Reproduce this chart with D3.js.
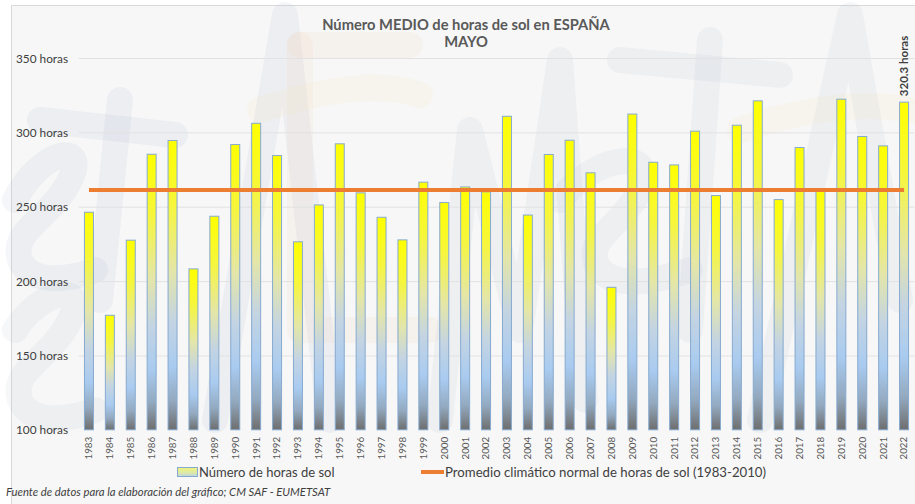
<!DOCTYPE html>
<html>
<head>
<meta charset="utf-8">
<script src="https://cdn.jsdelivr.net/npm/d3@7/dist/d3.min.js"></script>
<style>
  html, body { margin: 0; padding: 0; background: #ffffff; }
  svg { display: block; font-family: Lato, "Open Sans", "DejaVu Sans", sans-serif; }
</style>
</head>
<body>
<script>
// ---- data ----
const years = [1983,1984,1985,1986,1987,1988,1989,1990,1991,1992,1993,1994,1995,1996,1997,1998,1999,2000,2001,2002,
               2003,2004,2005,2006,2007,2008,2009,2010,2011,2012,2013,2014,2015,2016,2017,2018,2019,2020,2021,2022];
const sunHours = [246.3,177.0,227.5,285.3,294.5,208.2,243.6,291.8,306.1,284.4,226.4,251.2,292.3,259.3,242.9,227.7,
                  266.5,252.8,263.3,260.0,310.8,244.4,285.1,294.7,272.8,195.8,312.3,279.9,278.1,300.8,257.5,304.8,
                  321.2,254.8,289.8,262.0,322.3,297.2,290.9,320.3];
const normalHours = 261.2;
const yTicks = [100,150,200,250,300,350];
const titleLines = ["Número MEDIO de horas de sol en ESPAÑA", "MAYO"];
const legendLabels = ["Número de horas de sol", "Promedio climático normal de horas de sol (1983-2010)"];
const sourceText = "Fuente de datos para la elaboración del gráfico; CM SAF - EUMETSAT";
const lastLabel = "320.3 horas";

// ---- layout ----
const W = 915, H = 504;
const plot = { left: 78.5, right: 914.5, top: 58, bottom: 429.8 };

const svg = d3.select("body").append("svg").attr("width", W).attr("height", H);
const defs = svg.append("defs");

const grad = defs.append("linearGradient").attr("id", "barGrad")
  .attr("x1", 0).attr("y1", 0).attr("x2", 0).attr("y2", 1);
[[0, "#FFFF00"], [0.22, "#F6F63C"], [0.45, "#E4E6A8"], [0.62, "#C4D4E2"], [0.78, "#A9CBF0"],
 [0.9, "#93A9BF"], [1, "#6E6E6E"]].forEach(([o, c]) => grad.append("stop").attr("offset", o).attr("stop-color", c));

const lgGrad = defs.append("linearGradient").attr("id", "legGrad")
  .attr("x1", 0).attr("y1", 0).attr("x2", 0).attr("y2", 1);
[[0, "#EEF27A"], [0.6, "#DCE9A8"], [1, "#B9D3E6"]].forEach(([o, c]) => lgGrad.append("stop").attr("offset", o).attr("stop-color", c));

// chart area background and border
svg.append("rect").attr("x", 11.5).attr("y", 5.5).attr("width", W).attr("height", H)
  .attr("fill", "#F7F7F7").attr("stroke", "#D9D9D9");

// faint watermark strokes (AEMET logo impression)
const wm = svg.append("g").attr("fill", "none").attr("stroke-linecap", "round").attr("stroke-linejoin", "round");
const wmPaths = [
  ["M15,200 C40,150 90,140 70,180 C50,220 10,230 20,260 C30,285 70,280 95,270", "#9FB0C8"],
  ["M40,120 L175,135", "#9FB0C8"], ["M120,100 L100,300", "#9FB0C8"],
  ["M215,420 L285,15 L330,420", "#9FB0C8"],
  ["M300,45 L300,330 L430,330", "#F0C9A8"], ["M300,45 L410,45", "#F0C9A8"],
  ["M260,110 C320,90 380,80 420,95", "#F6E7A8"],
  ["M440,420 L470,130 L520,330 L560,60 L585,400", "#A8B6CC"],
  ["M560,200 C600,150 660,150 640,190 C620,230 580,240 600,270 C620,290 660,280 690,270", "#A8B6CC"],
  ["M620,60 L780,75", "#A8B6CC"], ["M710,40 L690,330", "#A8B6CC"],
  ["M760,420 L850,15 L900,300", "#A8B6CC"],
  ["M740,130 C800,110 860,100 910,110", "#F6E7A8"],
  ["M15,330 C40,290 90,280 70,320 C50,360 10,370 20,400 C30,425 70,420 95,410", "#A8B6CC"]
];
wmPaths.forEach(([d, c]) => wm.append("path").attr("d", d).attr("stroke", c).attr("stroke-width", 26).attr("opacity", 0.11));

// ---- scales ----
const x = d3.scaleBand().domain(years).range([plot.left, plot.right]).paddingInner(0.57).paddingOuter(0.285);
const y = d3.scaleLinear().domain([100, 350]).range([plot.bottom, plot.top]);

// gridlines
svg.append("g").selectAll("line").data(yTicks.filter(t => t > 100)).join("line")
  .attr("x1", plot.left).attr("x2", plot.right)
  .attr("y1", d => y(d) + 0.5).attr("y2", d => y(d) + 0.5)
  .attr("stroke", "#E2E2E2").attr("stroke-width", 1);

// y axis labels
const yAxis = d3.axisLeft(y).tickValues(yTicks).tickSize(0).tickPadding(0).tickFormat(d => d + " horas");
const gy = svg.append("g").attr("transform", "translate(68,0)").call(yAxis);
gy.select(".domain").remove();
gy.selectAll("text").attr("font-size", 11.8).attr("fill", "#404040")
  .attr("font-family", "Lato, 'Open Sans', sans-serif").attr("dy", "0.34em");

// bars
svg.append("g").selectAll("rect").data(years).join("rect")
  .attr("x", d => x(d))
  .attr("y", (d, i) => y(sunHours[i]))
  .attr("width", x.bandwidth())
  .attr("height", (d, i) => y(100) - y(sunHours[i]))
  .attr("fill", "url(#barGrad)")
  .attr("stroke", "#86AACF").attr("stroke-width", 1);

// x axis labels (rotated years)
const xAxis = d3.axisBottom(x).tickSize(0).tickPadding(0);
const gx = svg.append("g").attr("transform", `translate(0,${plot.bottom})`).call(xAxis);
gx.select(".domain").remove();
gx.selectAll("text")
  .attr("font-size", 9.8).attr("fill", "#595959").attr("font-family", "Lato, 'Open Sans', sans-serif")
  .attr("transform", "rotate(-90)")
  .attr("text-anchor", "end").attr("x", -7).attr("y", 0).attr("dy", "0.35em");

// normal line
const lineGen = d3.line().x(d => x(d) + x.bandwidth() / 2).y(() => y(normalHours));
svg.append("path").datum([years[0], years[years.length - 1]])
  .attr("d", lineGen).attr("fill", "none").attr("stroke", "#ED7D31").attr("stroke-width", 4);

// label on last bar
const lastYear = years[years.length - 1];
svg.append("text")
  .attr("transform", `translate(${x(lastYear) + x.bandwidth() / 2 + 4},${y(sunHours[sunHours.length - 1]) - 6}) rotate(-90)`)
  .attr("text-anchor", "start").attr("font-size", 11.5).attr("font-weight", "bold").attr("fill", "#404040")
  .text(lastLabel);

// title
svg.append("g").selectAll("text").data(titleLines).join("text")
  .attr("x", 466).attr("y", (d, i) => 30 + i * 17)
  .attr("text-anchor", "middle").attr("font-size", 14.7).attr("font-weight", "bold").attr("fill", "#595959")
  .text(d => d);

// legend
const lg = svg.append("g");
lg.append("rect").attr("x", 177.5).attr("y", 467.5).attr("width", 20).attr("height", 9)
  .attr("fill", "url(#legGrad)").attr("stroke", "#86AACF");
lg.append("text").attr("x", 199).attr("y", 476.5).attr("font-size", 13).attr("fill", "#404040").text(legendLabels[0]);
lg.append("line").attr("x1", 421).attr("x2", 444).attr("y1", 472).attr("y2", 472)
  .attr("stroke", "#ED7D31").attr("stroke-width", 4);
lg.append("text").attr("x", 445).attr("y", 476.5).attr("font-size", 13.2).attr("fill", "#404040").text(legendLabels[1]);

// source
svg.append("text").attr("x", 6).attr("y", 495.5).attr("font-size", 11.3).attr("font-style", "italic")
  .attr("fill", "#404040").text(sourceText);
</script>
</body>
</html>
